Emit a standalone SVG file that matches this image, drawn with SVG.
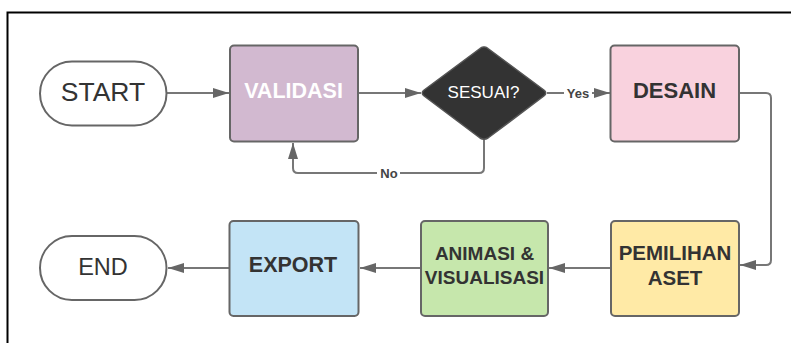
<svg xmlns="http://www.w3.org/2000/svg" width="791" height="343" viewBox="0 0 791 343">
  <style>
    .box { stroke: #666; stroke-width: 2; }
    .pill { fill: #fff; stroke: #666; stroke-width: 2; }
    .wire { fill: none; stroke: #777; stroke-width: 2; }
    .lbl { font-family: "Liberation Sans", Arial, sans-serif; font-weight: bold; fill: #333; text-anchor: middle; }
    .term { font-family: "Liberation Sans", Arial, sans-serif; fill: #333; text-anchor: middle; }
    .tag { font-family: "Liberation Sans", Arial, sans-serif; font-weight: bold; font-size: 13px; fill: #444; text-anchor: middle; }
  </style>
  <defs>
    <marker id="arrow" markerUnits="userSpaceOnUse" markerWidth="16" markerHeight="10" refX="16" refY="5" orient="auto">
      <path d="M0,0 L16,5 L0,10 z" fill="#666"/>
    </marker>
  </defs>

  <rect width="791" height="343" fill="#fff"/>
  <!-- frame -->
  <path d="M7.5,343 V12.5 H791" fill="none" stroke="#000" stroke-width="2"/>

  <g id="connectors">
    <path class="wire" d="M167,93 H229" marker-end="url(#arrow)"/>
    <path class="wire" d="M358,93 H421" marker-end="url(#arrow)"/>
    <path class="wire" d="M547,93 H564"/>
    <text class="tag" x="578" y="97.5">Yes</text>
    <path class="wire" d="M592,93 H610" marker-end="url(#arrow)"/>
    <path class="wire" d="M484,139 V168 Q484,173 479,173 H400"/>
    <text class="tag" x="389" y="177.5">No</text>
    <path class="wire" d="M377,173 H298 Q293,173 293,168 V143" marker-end="url(#arrow)"/>
    <path class="wire" d="M739,93 H766 Q771,93 771,98 V260 Q771,265 766,265 H740" marker-end="url(#arrow)"/>
    <path class="wire" d="M610,268 H549" marker-end="url(#arrow)"/>
    <path class="wire" d="M421,268 H360" marker-end="url(#arrow)"/>
    <path class="wire" d="M229,268 H168" marker-end="url(#arrow)"/>
  </g>

  <g id="start">
    <rect class="pill" x="40" y="61.5" width="126.5" height="64" rx="32"/>
    <text class="term" x="103" y="101" font-size="26.5">START</text>
  </g>

  <g id="validasi">
    <rect class="box" x="230" y="45.5" width="128" height="96" rx="4" fill="#d2b9d0"/>
    <text class="lbl" x="293.5" y="98" font-size="21.5" fill="#fff" style="fill:#fff">VALIDASI</text>
  </g>

  <g id="sesuai">
    <path d="M484,47 Q486,46.5 488,48.5 L544.5,90.5 Q547,93 544.5,95.5 L488,138 Q484,140.5 480,138 L423.5,95.5 Q421,93 423.5,90.5 L480,48.5 Q482,46.5 484,47 z" fill="#333" stroke="#555" stroke-width="1.5"/>
    <text class="term" x="483.5" y="97.5" font-size="17" fill="#fff" style="fill:#fff">SESUAI?</text>
  </g>

  <g id="desain">
    <rect class="box" x="610.5" y="45.5" width="128.5" height="96" rx="4" fill="#f9d2de"/>
    <text class="lbl" x="674.5" y="98" font-size="22">DESAIN</text>
  </g>

  <g id="pemilihan">
    <rect class="box" x="611" y="221" width="128" height="95" rx="4" fill="#ffeaa6"/>
    <text class="lbl" x="675" y="259.5" font-size="20.5">PEMILIHAN</text>
    <text class="lbl" x="675" y="285" font-size="20.5">ASET</text>
  </g>

  <g id="animasi">
    <rect class="box" x="421" y="221" width="127" height="95" rx="4" fill="#c6e7ac"/>
    <text class="lbl" x="484.5" y="260" font-size="19">ANIMASI &amp;</text>
    <text class="lbl" x="484.5" y="283.5" font-size="19">VISUALISASI</text>
  </g>

  <g id="export">
    <rect class="box" x="229.5" y="221" width="129" height="95" rx="4" fill="#c3e4f6"/>
    <text class="lbl" x="293" y="272" font-size="21.5">EXPORT</text>
  </g>

  <g id="end">
    <rect class="pill" x="40" y="236" width="126.5" height="64" rx="32"/>
    <text class="term" x="103" y="275" font-size="23.5">END</text>
  </g>
</svg>
